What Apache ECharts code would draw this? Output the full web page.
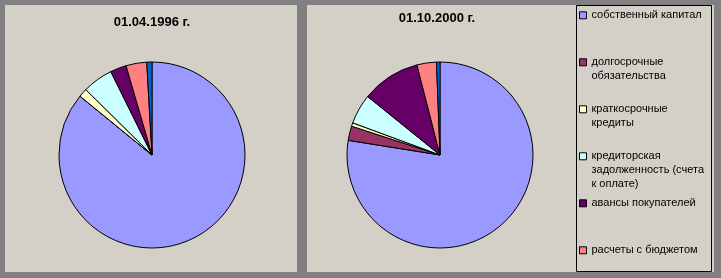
<!DOCTYPE html>
<html>
<head>
<meta charset="utf-8">
<script src="https://cdn.jsdelivr.net/npm/echarts@6/dist/echarts.min.js"></script>
<style>
html,body{margin:0;padding:0;background:#808080;}
#c{width:721px;height:278px;}
</style>
</head>
<body>
<div id="c"></div>
<script>
const categories = [
  'собственный капитал',
  'долгосрочные обязательства',
  'краткосрочные кредиты',
  'кредиторская задолженность (счета к оплате)',
  'авансы покупателей',
  'расчеты с бюджетом',
  'прочие'
];
const legendLabels = [
  'собственный капитал',
  'долгосрочные\nобязательства',
  'краткосрочные\nкредиты',
  'кредиторская\nзадолженность (счета\nк оплате)',
  'авансы покупателей',
  'расчеты с бюджетом'
];
const values1996 = [85.9, 0, 1.5, 5.3, 2.8, 3.6, 0.9];
const values2000 = [77.6, 2.5, 0.6, 5.2, 10.2, 3.4, 0.6];
const titles = ['01.04.1996 г.', '01.10.2000 г.'];
const colors = ['#9999FF', '#993366', '#FFFFCC', '#CCFFFF', '#660066', '#FF8080', '#0066CC'];

const FONT = '"Liberation Sans", Arial, sans-serif';
const chart = echarts.init(document.getElementById('c'), null, {renderer: 'canvas'});

const legendFirstLineY = [15.3, 62.3, 109.3, 156.3, 203.3, 250.3];
const legends = legendLabels.map((lab, i) => {
  const lines = lab.split('\n').length;
  // pad with blank lines above so the first text line sits level with the icon
  const padded = '\u00a0\n'.repeat(lines - 1) + lab;
  return {
    data: [categories[i]],
    orient: 'vertical',
    left: 579,
    top: legendFirstLineY[i] - (2 * lines - 1) * 7,
    padding: 0,
    itemWidth: 7,
    itemHeight: 7,
    icon: 'rect',
    selectedMode: false,
    itemStyle: {borderColor: '#000', borderWidth: 1},
    formatter: () => padded,
    textStyle: {fontFamily: FONT, fontSize: 11, color: '#000', lineHeight: 14}
  };
});

function mkData(vals) {
  return categories.map((n, i) => ({name: n, value: vals[i], itemStyle: {color: colors[i]}}));
}

chart.setOption({
  animation: false,
  backgroundColor: '#808080',
  color: colors,
  graphic: [
    {type: 'rect', shape: {x: 5, y: 5, width: 292, height: 267}, style: {fill: '#D4D0C8'}, z: -10},
    {type: 'rect', shape: {x: 307, y: 5, width: 407, height: 267}, style: {fill: '#D4D0C8'}, z: -10},
    {type: 'rect', shape: {x: 576.5, y: 5.5, width: 135, height: 266}, style: {fill: 'none', stroke: '#000', lineWidth: 1}, z: -5}
  ],
  title: [
    {text: titles[0], left: 152, top: 16, textAlign: 'center', padding: 0,
     textStyle: {fontFamily: FONT, fontSize: 13, fontWeight: 'bold', color: '#000'}},
    {text: titles[1], left: 437, top: 12, textAlign: 'center', padding: 0,
     textStyle: {fontFamily: FONT, fontSize: 13, fontWeight: 'bold', color: '#000'}}
  ],
  legend: legends,
  series: [
    {type: 'pie', name: titles[0], center: [152, 155], radius: 93, startAngle: 90, clockwise: true,
     label: {show: false}, labelLine: {show: false}, emphasis: {disabled: true},
     itemStyle: {borderColor: '#000', borderWidth: 1}, data: mkData(values1996)},
    {type: 'pie', name: titles[1], center: [440, 155], radius: 93, startAngle: 90, clockwise: true,
     label: {show: false}, labelLine: {show: false}, emphasis: {disabled: true},
     itemStyle: {borderColor: '#000', borderWidth: 1}, data: mkData(values2000)}
  ]
});
</script>
</body>
</html>
